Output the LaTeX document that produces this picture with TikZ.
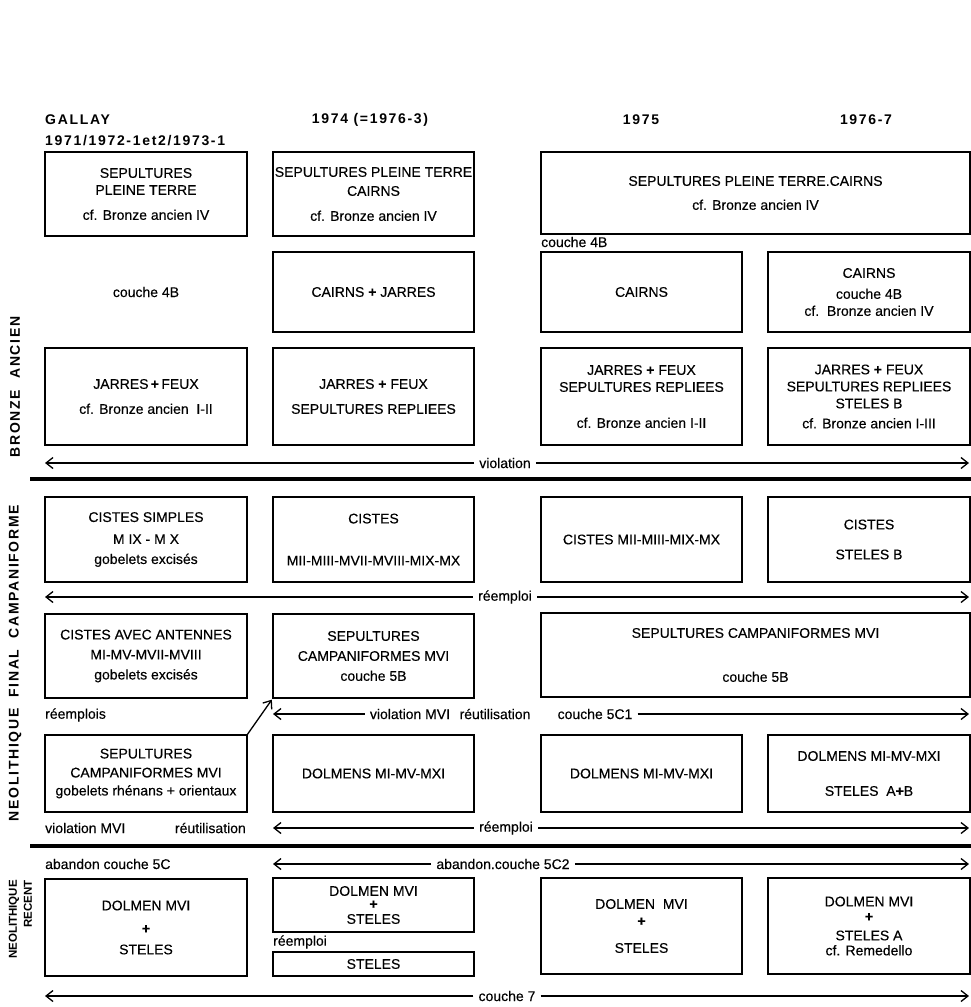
\documentclass[tikz,border=0pt]{standalone}
\usepackage{fontspec}
\setmainfont{Liberation Sans}[FakeBold=0.3]
\newfontfamily\hdrfont{Liberation Sans}[LetterSpace=12]
\newfontfamily\plainhdr{Liberation Sans}
\usetikzlibrary{arrows.meta}
\newcommand\bodyfs{\fontsize{14pt}{17pt}\selectfont}
\newcommand\pl{\textbf{+}}
\tikzset{
  box/.style={draw, line width=1.6pt, inner sep=0pt, outer sep=0pt, align=center, font=\bodyfs},
  lbl/.style={inner sep=0pt, font=\bodyfs},
  albl/.style={inner xsep=5pt, inner ysep=0pt, font=\bodyfs},
  hdr/.style={inner sep=0pt, font=\hdrfont\bfseries\fontsize{14pt}{17pt}\selectfont},
  per/.style={rotate=90, inner sep=0pt, font=\hdrfont\bfseries\fontsize{14pt}{17pt}\selectfont},
  persm/.style={rotate=90, inner sep=0pt, font=\plainhdr\bfseries\fontsize{11.5pt}{13pt}\selectfont},
  arr/.style={line width=1.3pt, -{Straight Barb[length=7pt,width=11pt]}},
  sepline/.style={line width=3.8pt},
}
\begin{document}
\begin{tikzpicture}[x=1pt,y=-1pt]
\useasboundingbox[fill=white] (0,0) rectangle (971,1007);

% headers
\node[hdr, anchor=west] (hGallay) at (45,120) {GALLAY};
\node[hdr, anchor=west] (hGallayB) at (45,141) {1971/1972-1et2/1973-1};
\node[hdr] (h1974) at (370,120) {1974 (=1976-3)};
\node[hdr] (h1975) at (641,120) {1975};
\node[hdr] (h1976) at (866,120) {1976-7};

% period labels
\node[per] (pBronze) at (15,387) {BRONZE\ \ ANCIEN};
\node[per] (pNeoF) at (15,663) {NEOLITHIQUE\ \ FINAL\ \ CAMPANIFORME};
\node[persm, anchor=east] (pNeoR1) at (14,880) {NEOLITHIQUE};
\node[persm, anchor=east] (pNeoR2) at (28,880) {RECENT};

% row 1
\node[box, minimum width=202pt, minimum height=84pt] (b11) at (146,194)
  {SEPULTURES\\PLEINE TERRE\\[8pt]cf. Bronze ancien IV};
\node[box, minimum width=201pt, minimum height=84pt] (b12) at (373.5,194)
  {SEPULTURES PLEINE TERRE\\[2pt]CAIRNS\\[8pt]cf. Bronze ancien IV};
\node[box, minimum width=429pt, minimum height=82pt] (b13) at (755.5,193)
  {SEPULTURES PLEINE TERRE.CAIRNS\\[7pt]cf. Bronze ancien IV};
\node[lbl, anchor=west] (c4Ba) at (541,242) {couche 4B};

% row 2
\node[lbl] (c4Bb) at (146,292) {couche 4B};
\node[box, minimum width=201pt, minimum height=80pt] (b22) at (373.5,292) {CAIRNS \pl\ JARRES};
\node[box, minimum width=201pt, minimum height=80pt] (b23) at (641.5,292) {CAIRNS};
\node[box, minimum width=202pt, minimum height=80pt] (b24) at (869,292)
  {CAIRNS\\[4pt]couche 4B\\cf.\ \ Bronze ancien IV};

% row 3
\node[box, minimum width=202pt, minimum height=97pt] (b31) at (146,396.5)
  {JARRES\,\pl\,FEUX\\[8pt]cf. Bronze ancien\ \ I-II};
\node[box, minimum width=201pt, minimum height=97pt] (b32) at (373.5,396.5)
  {JARRES \pl\ FEUX\\[8pt]SEPULTURES REPLIEES};
\node[box, minimum width=201pt, minimum height=97pt] (b33) at (641.5,396.5)
  {JARRES \pl\ FEUX\\SEPULTURES REPLIEES\\[19pt]cf. Bronze ancien I-II};
\node[box, minimum width=202pt, minimum height=97pt] (b34) at (869,396.5)
  {JARRES \pl\ FEUX\\SEPULTURES REPLIEES\\STELES B\\[3pt]cf. Bronze ancien I-III};

% violation arrow
\coordinate (vL) at (45,463);
\coordinate (vR) at (969,463);
\node[albl] (vT) at (505,463) {violation};
\draw[arr] (vT) -- (vL);
\draw[arr] (vT) -- (vR);

\coordinate (s1L) at (30,479);
\coordinate (s1R) at (971,479);
\draw[sepline] (s1L) -- (s1R);

% row 4
\node[box, minimum width=202pt, minimum height=85pt] (b41) at (146,539.5)
  {CISTES SIMPLES\\[5pt]M IX - M X\\[3pt]gobelets excisés};
\node[box, minimum width=201pt, minimum height=85pt] (b42) at (373.5,539.5)
  {CISTES\\[25pt]MII-MIII-MVII-MVIII-MIX-MX};
\node[box, minimum width=201pt, minimum height=85pt] (b43) at (641.5,539.5)
  {CISTES MII-MIII-MIX-MX};
\node[box, minimum width=202pt, minimum height=85pt] (b44) at (869,539.5)
  {CISTES\\[13pt]STELES B};

% reemploi arrow
\coordinate (rL) at (45,597);
\coordinate (rR) at (969,597);
\node[albl] (rT) at (505,597) {réemploi};
\draw[arr] (rT) -- (rL);
\draw[arr] (rT) -- (rR);

% row 5
\node[box, minimum width=202pt, minimum height=84pt] (b51) at (146,656)
  {CISTES AVEC ANTENNES\\[3pt]MI-MV-MVII-MVIII\\[3pt]gobelets excisés};
\node[box, minimum width=201pt, minimum height=84pt] (b52) at (373.5,656)
  {SEPULTURES\\[3pt]CAMPANIFORMES MVI\\[3pt]couche 5B};
\node[box, minimum width=429pt, minimum height=84pt] (b53) at (755.5,655)
  {SEPULTURES CAMPANIFORMES MVI\\[27pt]couche 5B};

\node[lbl, anchor=west] (remplois) at (45,715) {réemplois};
\coordinate (mL) at (273,714);
\coordinate (mR) at (969,714);
\node[albl] (m1) at (410,714) {violation MVI};
\node[lbl] (m2) at (495,714) {réutilisation};
\node[albl] (m3) at (595,714) {couche 5C1};
\draw[arr] (m1) -- (mL);
\draw[arr] (m3) -- (mR);

% row 6
\node[box, minimum width=202pt, minimum height=77pt] (b61) at (146,773.5)
  {SEPULTURES\\[2pt]CAMPANIFORMES MVI\\[1pt]gobelets rhénans + orientaux};
\node[box, minimum width=201pt, minimum height=77pt] (b62) at (373.5,773.5) {DOLMENS MI-MV-MXI};
\node[box, minimum width=201pt, minimum height=77pt] (b63) at (641.5,773.5) {DOLMENS MI-MV-MXI};
\node[box, minimum width=202pt, minimum height=77pt] (b64) at (869,773.5)
  {DOLMENS MI-MV-MXI\\[18pt]STELES\ \ A\pl B};

\draw[arr, shorten >=2pt] (b61.north east) -- (b52.south west);

\node[lbl, anchor=west] (violB) at (45,828) {violation MVI};
\node[lbl, anchor=east] (reutB) at (246,828) {réutilisation};
\coordinate (r2L) at (273,828);
\coordinate (r2R) at (969,828);
\node[albl] (r2T) at (506,828) {réemploi};
\draw[arr] (r2T) -- (r2L);
\draw[arr] (r2T) -- (r2R);

\coordinate (s2L) at (30,846);
\coordinate (s2R) at (971,846);
\draw[sepline] (s2L) -- (s2R);

\node[lbl, anchor=west] (aband) at (45,864) {abandon couche 5C};
\coordinate (aL) at (273,864);
\coordinate (aR) at (969,864);
\node[albl] (aT) at (503,864) {abandon.couche 5C2};
\draw[arr] (aT) -- (aL);
\draw[arr] (aT) -- (aR);

% row 7
\node[box, minimum width=202pt, minimum height=97pt] (b71) at (146,927.5)
  {DOLMEN MVI\\[6pt]\pl\\[4pt]STELES};
\node[box, minimum width=201pt, minimum height=54pt] (b72) at (373.5,905)
  {DOLMEN MVI\\[-4pt]\pl\\[-2pt]STELES};
\node[lbl, anchor=west] (remp3) at (273,942) {réemploi};
\node[box, minimum width=201pt, minimum height=24pt] (b72b) at (373.5,964) {STELES};
\node[box, minimum width=201pt, minimum height=96pt] (b73) at (641.5,926)
  {DOLMEN\ \ MVI\\\pl\\[10pt]STELES};
\node[box, minimum width=202pt, minimum height=96pt] (b74) at (869,926)
  {DOLMEN MVI\\[-2pt]\pl\\[2pt]STELES A\\[-2pt]cf. Remedello};

% couche 7 arrow
\coordinate (cL) at (45,996);
\coordinate (cR) at (969,996);
\node[albl] (cT) at (507,996) {couche 7};
\draw[arr] (cT) -- (cL);
\draw[arr] (cT) -- (cR);
\end{tikzpicture}
\end{document}
